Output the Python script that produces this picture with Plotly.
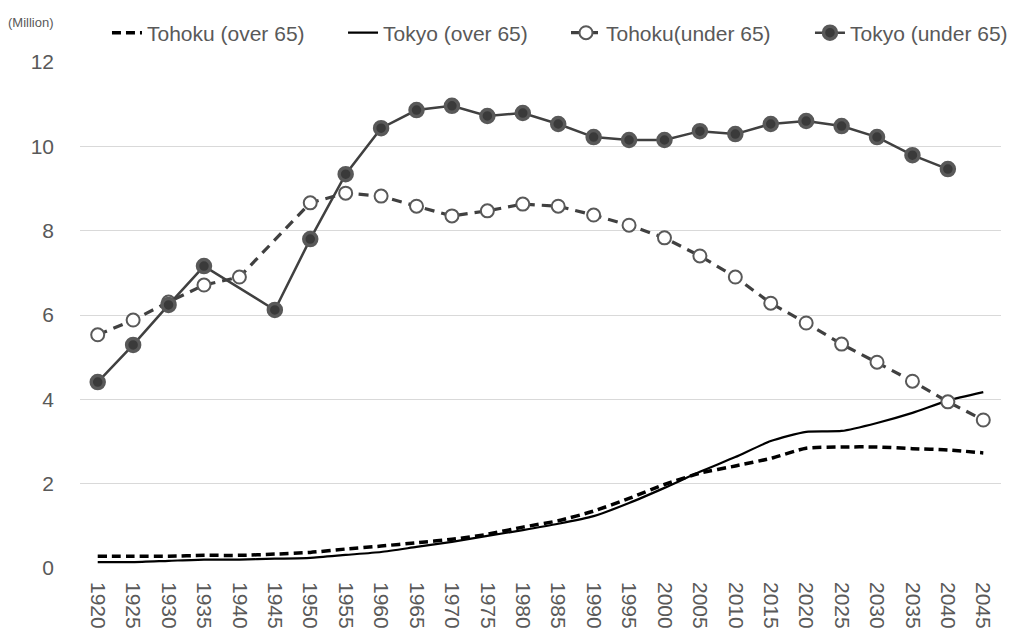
import plotly.graph_objects as go

years = [str(y) for y in range(1920, 2050, 5)]

tohoku_over65 = [0.28, 0.28, 0.28, 0.30, 0.30, 0.33, 0.37, 0.45, 0.52, 0.60, 0.68, 0.80, 0.97,
                 1.12, 1.35, 1.65, 1.98, 2.25, 2.42, 2.60, 2.84, 2.87, 2.87, 2.83, 2.80, 2.73]
tokyo_over65 = [0.14, 0.14, 0.17, 0.20, 0.20, 0.22, 0.24, 0.31, 0.38, 0.50, 0.62, 0.76, 0.90,
                1.05, 1.23, 1.54, 1.90, 2.28, 2.63, 3.01, 3.23, 3.25, 3.44, 3.68, 3.97, 4.17]
tohoku_under65 = [5.53, 5.88, 6.31, 6.71, 6.90, None, 8.66, 8.89, 8.82, 8.58, 8.35, 8.47, 8.63,
                  8.58, 8.37, 8.13, 7.83, 7.40, 6.90, 6.28, 5.81, 5.31, 4.88, 4.43, 3.94, 3.51]
tokyo_under65 = [4.41, 5.29, 6.24, 7.16, None, 6.12, 7.80, 9.34, 10.43, 10.86, 10.96, 10.72, 10.79,
                 10.53, 10.22, 10.15, 10.15, 10.36, 10.29, 10.53, 10.60, 10.48, 10.22, 9.79, 9.46, None]

font = "Liberation Sans, Arial, sans-serif"
grey = "#595959"

fig = go.Figure()

fig.add_trace(go.Scatter(
    x=years, y=tohoku_over65, name="Tohoku (over 65)", mode="lines", legend="legend",
    line=dict(color="black", width=3.5, dash="9px,5px", shape="spline", smoothing=0.6),
))
fig.add_trace(go.Scatter(
    x=years, y=tokyo_over65, name="Tokyo (over 65)", mode="lines", legend="legend2",
    line=dict(color="black", width=2.2, shape="spline", smoothing=0.6),
))
fig.add_trace(go.Scatter(
    x=years, y=tohoku_under65, name="Tohoku(under 65)", mode="lines+markers", legend="legend3",
    connectgaps=True,
    line=dict(color="#404040", width=3.2, dash="10px,7px"),
    marker=dict(symbol="circle", size=13, color="white", line=dict(color=grey, width=2)),
))
fig.add_trace(go.Scatter(
    x=years, y=tokyo_under65, name="Tokyo (under 65)", mode="lines+markers", legend="legend4",
    connectgaps=True,
    line=dict(color="#404040", width=2.5),
    marker=dict(symbol="circle", size=13, color="#3a3a3a", line=dict(color=grey, width=3.5)),
))


def legend_at(x):
    return dict(
        orientation="h", x=x, xref="container", xanchor="left",
        y=0.960, yref="container", yanchor="middle",
        font=dict(size=21, color=grey), bgcolor="rgba(0,0,0,0)",
    )


fig.update_layout(
    width=1014, height=626,
    showlegend=True,
    paper_bgcolor="white", plot_bgcolor="white",
    margin=dict(l=72, r=21, t=54, b=66, autoexpand=False),
    font=dict(family=font, size=21, color=grey),
    legend=legend_at(0.0976),
    legend2=legend_at(0.3304),
    legend3=legend_at(0.5503),
    legend4=legend_at(0.7909),
    xaxis=dict(
        type="category", range=[-0.5, len(years) - 0.5], tickangle=90,
        showgrid=False, showline=False, ticks="", ticklabelstandoff=13,
        tickfont=dict(size=21, color=grey),
    ),
    yaxis=dict(
        range=[0, 12], dtick=2, showgrid=True, gridcolor="#d9d9d9", gridwidth=1,
        zeroline=False, showline=False, ticks="", ticklen=0, ticklabelstandoff=25,
        tickfont=dict(size=21, color=grey),
    ),
    annotations=[dict(
        text="(Million)", xref="x domain", yref="y domain",
        x=-0.08, y=1.079, xanchor="left", yanchor="middle",
        showarrow=False, font=dict(size=13, color=grey),
    )],
)

fig.write_html("out.html")
